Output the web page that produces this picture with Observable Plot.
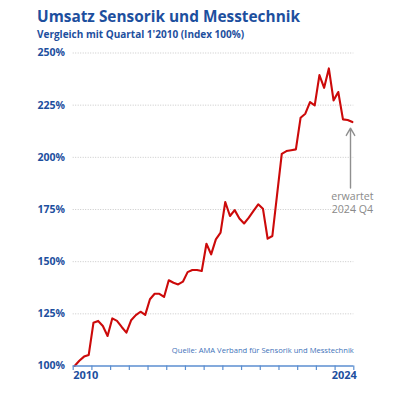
<!DOCTYPE html>
<html>
<head>
<meta charset="utf-8">
<script src="https://cdn.jsdelivr.net/npm/d3@7"></script>
<script src="https://cdn.jsdelivr.net/npm/@observablehq/plot@0.6"></script>
<style>
  html, body { margin: 0; padding: 0; background: #fff; }
  #wrap { position: relative; width: 400px; height: 395px; font-family: "Open Sans", sans-serif; }
  #head { position: relative; height: 40px; }
  #title { position: absolute; left: 37px; top: 7px; font-size: 15.4px; font-weight: 700; color: #1d4f9e; line-height: 20px; white-space: nowrap; }
  #subtitle { position: absolute; left: 37px; top: 26.5px; font-size: 10px; font-weight: 700; color: #1d4f9e; line-height: 14px; white-space: nowrap; }
  svg { display: block; }
</style>
</head>
<body>
<div id="wrap">
  <div id="head">
    <div id="title">Umsatz Sensorik und Messtechnik</div>
    <div id="subtitle">Vergleich mit Quartal 1'2010 (Index 100%)</div>
  </div>
  <div id="chart"></div>
</div>
<script>
// Quarterly index values, Q1 2010 .. Q4 2024 (Q1 2010 = 100)
const values = [100, 102.5, 104.5, 105.3, 120.7, 121.6, 119.2, 114.4, 122.8, 121.6,
  118.7, 116, 121.9, 124.4, 126, 124.5, 132, 134.6, 134.6, 133.1,
  141.1, 139.9, 139.1, 140.4, 145, 146, 146, 145.5, 158.6, 153.5,
  160.7, 163.9, 178.6, 171.9, 174.7, 170.7, 168.3, 171.1, 174.3, 177.5,
  175.4, 161, 162.3, 182, 201.7, 203, 203.4, 203.8, 219, 220.9,
  226.5, 224.9, 239.4, 233.3, 242.6, 227.3, 231.3, 218.2, 217.9, 216.9];
const yTicks = [100, 125, 150, 175, 200, 225, 250];
const xTickLabels = ["2010", "2024"];
const yearCount = 16; // tick marks along the time axis
const noteLines = ["erwartet", "2024 Q4"];
const noteArrow = [{x: 58.6, y1: 185.3, y2: 214}];
const noteLabel = [{x: 59, y: 181}, {x: 59, y: 175}];
const source = "Quelle: AMA Verband für Sensorik und Messtechnik";

const data = values.map((v, i) => ({i, v}));
const xDomain = [-0.3, values.length - 1 + 0.3];
const xTicks = d3.range(yearCount).map(k => xDomain[0] + k * (xDomain[1] - xDomain[0]) / (yearCount - 1));

const blue = "#1d4f9e";
const axisBlue = "#5b8ed0";

const chart = Plot.plot({
  width: 400,
  height: 355,
  marginLeft: 72.7,
  marginRight: 46.7,
  marginTop: 12.5,
  marginBottom: 29.5,
  style: {fontFamily: "Open Sans, sans-serif", background: "#fff", overflow: "visible"},
  x: {domain: xDomain, axis: null},
  y: {domain: [100, 250], axis: null},
  marks: [
    Plot.ruleY(yTicks.filter(d => d > 100), {stroke: "#c8c8c8", strokeWidth: 1, strokeDasharray: "1,1.5"}),
    Plot.axisY({ticks: yTicks, tickSize: 0, tickPadding: 0, textAnchor: "start", dx: 37 - 72.7,
      tickFormat: d => d + "%", fill: blue, fontWeight: 700, fontSize: 10.5}),
    Plot.text([source], {frameAnchor: "bottom-right", textAnchor: "end", dy: -13, fill: "#3e72b9", fontSize: 7.6}),
    Plot.line(data, {x: "i", y: "v", stroke: "#cc0a0a", strokeWidth: 2.1, strokeLinejoin: "round"}),
    Plot.ruleY([100], {stroke: axisBlue, strokeWidth: 1.6}),
    Plot.axisX({ticks: xTicks, tickSize: 4.5, stroke: axisBlue, strokeWidth: 1.2, fill: "none", label: null}),
    Plot.axisX({ticks: [xTicks[0]], tickSize: 0, tickPadding: 5, tickFormat: () => xTickLabels[0],
      textAnchor: "start", fill: blue, fontWeight: 700, fontSize: 11, label: null}),
    Plot.axisX({ticks: [xTicks[xTicks.length - 1]], tickSize: 0, tickPadding: 5, tickFormat: () => xTickLabels[1],
      textAnchor: "end", dx: 3, fill: blue, fontWeight: 700, fontSize: 11, label: null}),
    Plot.arrow(noteArrow, {x1: "x", y1: "y1", x2: "x", y2: "y2", stroke: "#8f8f8f", strokeWidth: 1.4, headLength: 9}),
    Plot.text(noteLabel, {x: "x", y: "y", text: (d, i) => noteLines[i], fill: "#8a8a8a", fontSize: 10.6, textAnchor: "middle"})
  ]
});
document.getElementById("chart").appendChild(chart);
</script>
</body>
</html>
